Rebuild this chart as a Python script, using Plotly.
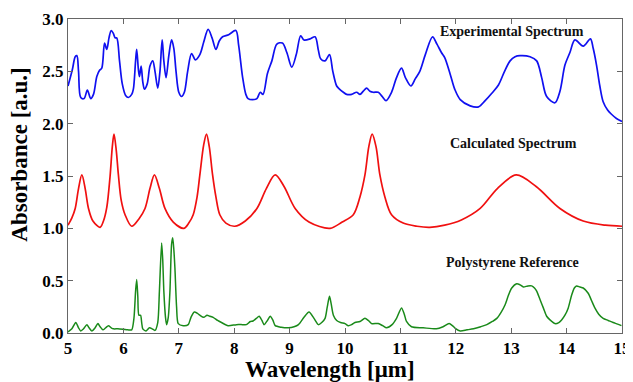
import plotly.graph_objects as go

# ---- Data ----
exp_x = [5.00, 5.08, 5.13, 5.16, 5.19, 5.23, 5.29, 5.35, 5.41, 5.46, 5.52, 5.57, 5.61, 5.66, 5.70, 5.74,
         5.78, 5.82, 5.85, 5.88, 5.93, 5.98, 6.04, 6.09, 6.15, 6.18, 6.22, 6.24, 6.27, 6.29, 6.32, 6.35,
         6.38, 6.43, 6.48, 6.53, 6.57, 6.62, 6.66, 6.70, 6.73, 6.77, 6.82, 6.87, 6.91, 6.95, 7.00, 7.05,
         7.10, 7.16, 7.23, 7.30, 7.38, 7.45, 7.53, 7.60, 7.67, 7.73, 7.79, 7.90, 8.03, 8.08, 8.15, 8.21,
         8.25, 8.33, 8.41, 8.47, 8.52, 8.60, 8.68, 8.77, 8.87, 8.95, 9.04, 9.12, 9.20, 9.26, 9.37, 9.46,
         9.52, 9.56, 9.64, 9.72, 9.78, 9.85, 9.90, 9.97, 10.03, 10.12, 10.21, 10.27, 10.33, 10.39, 10.45,
         10.51, 10.60, 10.67, 10.74, 10.84, 10.93, 11.02, 11.09, 11.19, 11.27, 11.35, 11.45, 11.58, 11.66,
         11.74, 11.80, 11.90, 11.98, 12.08, 12.26, 12.41, 12.53, 12.65, 12.77, 12.88, 12.98, 13.07, 13.16,
         13.34, 13.46, 13.55, 13.64, 13.79, 13.88, 13.97, 14.06, 14.15, 14.30, 14.43, 14.48, 14.54, 14.60,
         14.66, 14.74, 14.81, 14.90, 15.00]
exp_y = [2.36, 2.52, 2.64, 2.65, 2.50, 2.25, 2.24, 2.32, 2.24, 2.28, 2.45, 2.51, 2.53, 2.77, 2.71, 2.82,
         2.89, 2.86, 2.82, 2.82, 2.60, 2.38, 2.27, 2.25, 2.28, 2.33, 2.60, 2.71, 2.52, 2.45, 2.55, 2.40,
         2.33, 2.38, 2.55, 2.60, 2.50, 2.34, 2.50, 2.80, 2.60, 2.44, 2.65, 2.80, 2.72, 2.50, 2.30, 2.26,
         2.30, 2.50, 2.67, 2.61, 2.66, 2.78, 2.90, 2.82, 2.71, 2.79, 2.83, 2.85, 2.89, 2.75, 2.45, 2.28,
         2.24, 2.23, 2.24, 2.30, 2.28, 2.48, 2.60, 2.76, 2.77, 2.68, 2.54, 2.66, 2.84, 2.80, 2.81, 2.83,
         2.70, 2.62, 2.60, 2.66, 2.50, 2.36, 2.33, 2.30, 2.28, 2.28, 2.30, 2.28, 2.31, 2.34, 2.31,
         2.30, 2.30, 2.26, 2.22, 2.30, 2.44, 2.53, 2.44, 2.36, 2.43, 2.50, 2.66, 2.83, 2.76,
         2.68, 2.63, 2.47, 2.33, 2.23, 2.17, 2.16, 2.22, 2.29, 2.37, 2.50, 2.60, 2.64, 2.65,
         2.64, 2.60, 2.44, 2.26, 2.20, 2.31, 2.56, 2.68, 2.80, 2.74, 2.81, 2.72, 2.56, 2.36,
         2.21, 2.13, 2.09, 2.05, 2.02]

calc_x = [5.00, 5.07, 5.13, 5.19, 5.25, 5.31, 5.37, 5.45, 5.58, 5.64, 5.70, 5.76, 5.80, 5.83, 5.87, 5.91,
          5.96, 6.03, 6.15, 6.28, 6.39, 6.48, 6.56, 6.65, 6.75, 6.90, 7.09, 7.18, 7.26, 7.33, 7.38, 7.45,
          7.50, 7.55, 7.61, 7.67, 7.74, 7.85, 8.01, 8.20, 8.41, 8.58, 8.74, 8.90, 9.10, 9.35, 9.73, 9.95,
          10.15, 10.27, 10.36, 10.43, 10.49, 10.56, 10.63, 10.72, 10.84, 11.05, 11.30, 11.53, 11.80, 12.10,
          12.44, 12.75, 13.09, 13.45, 13.88, 14.30, 14.70, 15.00]
calc_y = [1.03, 1.10, 1.19, 1.38, 1.51, 1.38, 1.19, 1.07, 1.01, 1.07, 1.20, 1.50, 1.78, 1.90, 1.75, 1.51,
          1.27, 1.13, 1.02, 1.09, 1.19, 1.38, 1.51, 1.38, 1.19, 1.06, 1.00, 1.05, 1.13, 1.30, 1.51, 1.80,
          1.90, 1.78, 1.51, 1.30, 1.13, 1.05, 1.02, 1.07, 1.19, 1.38, 1.51, 1.40, 1.19, 1.06, 1.00, 1.06,
          1.13, 1.30, 1.51, 1.78, 1.90, 1.78, 1.51, 1.30, 1.13, 1.05, 1.02, 1.01, 1.03, 1.08,
          1.19, 1.38, 1.51, 1.40, 1.19, 1.07, 1.03, 1.02]

ref_x = [5.00, 5.07, 5.14, 5.19, 5.23, 5.28, 5.34, 5.38, 5.43, 5.49, 5.54, 5.58, 5.63, 5.68, 5.73, 5.78,
         5.82, 5.90, 6.00, 6.08, 6.15, 6.19, 6.22, 6.24, 6.26, 6.28, 6.31, 6.33, 6.35, 6.41, 6.47, 6.52,
         6.57, 6.62, 6.65, 6.69, 6.71, 6.73, 6.76, 6.78, 6.81, 6.84, 6.87, 6.89, 6.91, 6.93, 6.96, 6.99,
         7.08, 7.17, 7.22, 7.28, 7.33, 7.38, 7.45, 7.51, 7.56, 7.62, 7.70, 7.77, 7.89, 8.04, 8.15, 8.22,
         8.29, 8.34, 8.40, 8.45, 8.50, 8.54, 8.60, 8.65, 8.70, 8.74, 8.85, 8.98, 9.08, 9.16, 9.26, 9.35,
         9.44, 9.52, 9.58, 9.64, 9.68, 9.72, 9.75, 9.79, 9.85, 9.92, 10.00, 10.06, 10.12, 10.18, 10.27,
         10.36, 10.42, 10.48, 10.60, 10.68, 10.75, 10.85, 10.93, 11.02, 11.07, 11.11, 11.20, 11.41, 11.65,
         11.77, 11.88, 11.94, 11.99, 12.08, 12.20, 12.32, 12.45, 12.56, 12.66, 12.74, 12.82, 12.89, 12.95,
         13.01, 13.10, 13.16, 13.22, 13.30, 13.37, 13.42, 13.46, 13.52, 13.58, 13.64, 13.70, 13.79, 13.86,
         13.91, 13.97, 14.03, 14.09, 14.14, 14.18, 14.24, 14.30, 14.39, 14.45, 14.51, 14.58, 14.66, 14.75,
         14.84, 14.92, 14.99]
ref_y = [0.01, 0.04, 0.10, 0.05, 0.02, 0.04, 0.08, 0.05, 0.02, 0.05, 0.09, 0.06, 0.03, 0.05, 0.07, 0.05,
         0.04, 0.04, 0.035, 0.03, 0.03, 0.14, 0.40, 0.51, 0.35, 0.17, 0.17, 0.10, 0.04, 0.02, 0.05, 0.04,
         0.025, 0.10, 0.40, 0.86, 0.70, 0.40, 0.15, 0.08, 0.15, 0.40, 0.85, 0.91, 0.80, 0.62, 0.25, 0.09,
         0.07, 0.08, 0.15, 0.20, 0.19, 0.17, 0.15, 0.17, 0.16, 0.15, 0.12, 0.10, 0.07, 0.08, 0.08, 0.08,
         0.11, 0.115, 0.14, 0.16, 0.12, 0.08, 0.12, 0.16, 0.12, 0.07, 0.055, 0.05, 0.06, 0.08, 0.15, 0.20,
         0.14, 0.08, 0.10, 0.14, 0.25, 0.35, 0.28, 0.17, 0.12, 0.10, 0.09, 0.07, 0.08, 0.10, 0.11,
         0.14, 0.12, 0.09, 0.09, 0.07, 0.05, 0.08, 0.14, 0.24, 0.18, 0.11, 0.06, 0.05, 0.04,
         0.06, 0.09, 0.07, 0.045, 0.02, 0.03, 0.04, 0.06, 0.08, 0.11, 0.14, 0.20, 0.27, 0.36,
         0.43, 0.47, 0.46, 0.44, 0.45, 0.45, 0.43, 0.40, 0.32, 0.24, 0.16, 0.125, 0.09, 0.10,
         0.125, 0.17, 0.24, 0.36, 0.43, 0.45, 0.44, 0.43, 0.38, 0.31, 0.24, 0.18, 0.14, 0.12,
         0.10, 0.085, 0.07]

labels = ["Experimental Spectrum", "Calculated Spectrum", "Polystyrene Reference"]
label_x = [13.02, 13.04, 13.03]
label_y = [2.88, 1.81, 0.67]

x_ticks = [5, 6, 7, 8, 9, 10, 11, 12, 13, 14, 15]
y_ticks = [0.0, 0.5, 1.0, 1.5, 2.0, 2.5, 3.0]
y_tick_text = ["0.0", "0.5", "1.0", "1.5", "2.0", "2.5", "3.0"]
x_title = "Wavelength [\u03bcm]"
y_title = "Absorbance [a.u.]"

FONT = "Liberation Serif, Times New Roman, serif"

fig = go.Figure()
fig.add_trace(go.Scatter(x=exp_x, y=exp_y, mode="lines", name=labels[0],
                         line=dict(color="#1010f0", width=1.7, shape="spline", smoothing=0.9)))
fig.add_trace(go.Scatter(x=calc_x, y=calc_y, mode="lines", name=labels[1],
                         line=dict(color="#f01010", width=1.7, shape="spline", smoothing=0.9)))
fig.add_trace(go.Scatter(x=ref_x, y=ref_y, mode="lines", name=labels[2],
                         line=dict(color="#1a8a1a", width=1.5, shape="spline", smoothing=0.7)))

for t, x, y in zip(labels, label_x, label_y):
    fig.add_annotation(x=x, y=y, text="<b>%s</b>" % t, showarrow=False,
                       font=dict(family=FONT, size=14, color="#111"),
                       xanchor="center", yanchor="middle")

# axis titles placed as paper annotations
fig.add_annotation(x=0.473, y=-0.117, xref="paper", yref="paper", text="<b>%s</b>" % x_title,
                   showarrow=False, xanchor="center", yanchor="middle", borderpad=0,
                   font=dict(family=FONT, size=23, color="black"))
fig.add_annotation(x=-0.0866, y=0.568, xref="paper", yref="paper", text="<b>%s</b>" % y_title,
                   showarrow=False, xanchor="center", yanchor="middle", textangle=-90, borderpad=0,
                   font=dict(family=FONT, size=23, color="black"))

axis_common = dict(showgrid=False, zeroline=False, showline=True, linecolor="#666",
                   linewidth=1, mirror="ticks", ticks="inside", ticklen=5, tickcolor="#666",
                   automargin=False,
                   tickfont=dict(family=FONT, size=17, color="black"))

fig.update_xaxes(range=[5, 15], tickvals=x_ticks, ticktext=["<b>%d</b>" % v for v in x_ticks],
                 **axis_common)
fig.update_yaxes(range=[0, 3], tickvals=y_ticks, ticktext=["<b>%s</b>" % s for s in y_tick_text],
                 **axis_common)

# the page body adds an 8px offset, so the figure is sized to compensate
fig.update_layout(width=625, height=374, margin=dict(l=60, r=11, t=11, b=49),
                  plot_bgcolor="white", paper_bgcolor="white", showlegend=False,
                  font=dict(family=FONT))

fig.write_html("out.html")
